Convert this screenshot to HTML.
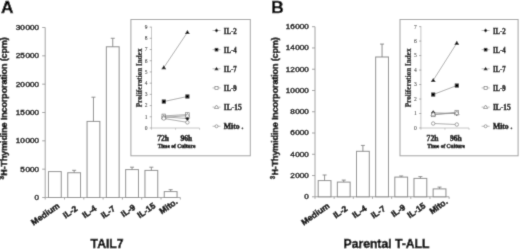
<!DOCTYPE html>
<html><head><meta charset="utf-8"><style>
html,body{margin:0;padding:0;background:#fff;width:520px;height:249px;overflow:hidden;}
svg{display:block;}
text{stroke:#000;stroke-width:0.45px;}
text.s{stroke-width:0.4px;}
text.b{stroke-width:0.45px;}
text.t{stroke-width:0.05px;}
text.p{stroke-width:0.2px;}
</style></head><body>
<svg width="520" height="249" viewBox="0 0 520 249">
<defs><filter id="bl" x="0" y="0" width="520" height="249" filterUnits="userSpaceOnUse"><feConvolveMatrix order="3" kernelMatrix="1 6 1 6 36 6 1 6 1" edgeMode="duplicate" preserveAlpha="true"/></filter></defs>
<g filter="url(#bl)">
<rect width="520" height="249" fill="#fff"/>
<text x="1" y="13.1" class="b" font-family='"Liberation Sans", sans-serif' font-weight="bold" font-size="17.3">A</text>
<line x1="45.2" y1="27.5" x2="45.2" y2="197.5" stroke="#a0a0a0" stroke-width="1"/>
<line x1="42.2" y1="197.5" x2="45.2" y2="197.5" stroke="#a0a0a0" stroke-width="1"/>
<text x="39" y="199.9" text-anchor="end" font-family='"Liberation Sans", sans-serif' font-size="8.1">0</text>
<line x1="42.2" y1="169.17" x2="45.2" y2="169.17" stroke="#a0a0a0" stroke-width="1"/>
<text x="39" y="171.57" text-anchor="end" font-family='"Liberation Sans", sans-serif' font-size="8.1">5<tspan dx="0.6">000</tspan></text>
<line x1="42.2" y1="140.83" x2="45.2" y2="140.83" stroke="#a0a0a0" stroke-width="1"/>
<text x="39" y="143.23" text-anchor="end" font-family='"Liberation Sans", sans-serif' font-size="8.1">10<tspan dx="0.6">000</tspan></text>
<line x1="42.2" y1="112.5" x2="45.2" y2="112.5" stroke="#a0a0a0" stroke-width="1"/>
<text x="39" y="114.9" text-anchor="end" font-family='"Liberation Sans", sans-serif' font-size="8.1">15<tspan dx="0.6">000</tspan></text>
<line x1="42.2" y1="84.17" x2="45.2" y2="84.17" stroke="#a0a0a0" stroke-width="1"/>
<text x="39" y="86.57" text-anchor="end" font-family='"Liberation Sans", sans-serif' font-size="8.1">20<tspan dx="0.6">000</tspan></text>
<line x1="42.2" y1="55.83" x2="45.2" y2="55.83" stroke="#a0a0a0" stroke-width="1"/>
<text x="39" y="58.23" text-anchor="end" font-family='"Liberation Sans", sans-serif' font-size="8.1">25<tspan dx="0.6">000</tspan></text>
<line x1="42.2" y1="27.5" x2="45.2" y2="27.5" stroke="#a0a0a0" stroke-width="1"/>
<text x="39" y="29.9" text-anchor="end" font-family='"Liberation Sans", sans-serif' font-size="8.1">30<tspan dx="0.6">000</tspan></text>
<line x1="45.2" y1="197.5" x2="180.3" y2="197.5" stroke="#a0a0a0" stroke-width="1"/>
<line x1="45.2" y1="197.5" x2="45.2" y2="199.5" stroke="#a0a0a0" stroke-width="1"/>
<line x1="64.5" y1="197.5" x2="64.5" y2="199.5" stroke="#a0a0a0" stroke-width="1"/>
<line x1="83.8" y1="197.5" x2="83.8" y2="199.5" stroke="#a0a0a0" stroke-width="1"/>
<line x1="103.1" y1="197.5" x2="103.1" y2="199.5" stroke="#a0a0a0" stroke-width="1"/>
<line x1="122.4" y1="197.5" x2="122.4" y2="199.5" stroke="#a0a0a0" stroke-width="1"/>
<line x1="141.7" y1="197.5" x2="141.7" y2="199.5" stroke="#a0a0a0" stroke-width="1"/>
<line x1="161" y1="197.5" x2="161" y2="199.5" stroke="#a0a0a0" stroke-width="1"/>
<line x1="180.3" y1="197.5" x2="180.3" y2="199.5" stroke="#a0a0a0" stroke-width="1"/>
<rect x="48.45" y="171.6" width="12.8" height="25.9" fill="#fff" stroke="#8a8a8a" stroke-width="1"/>
<rect x="67.75" y="172.74" width="12.8" height="24.76" fill="#fff" stroke="#8a8a8a" stroke-width="1"/>
<line x1="74.15" y1="170.3" x2="74.15" y2="172.74" stroke="#8a8a8a" stroke-width="1"/>
<line x1="72.15" y1="170.3" x2="76.15" y2="170.3" stroke="#8a8a8a" stroke-width="1"/>
<rect x="87.05" y="121.4" width="12.8" height="76.1" fill="#fff" stroke="#8a8a8a" stroke-width="1"/>
<line x1="93.45" y1="97.2" x2="93.45" y2="121.4" stroke="#8a8a8a" stroke-width="1"/>
<line x1="91.45" y1="97.2" x2="95.45" y2="97.2" stroke="#8a8a8a" stroke-width="1"/>
<rect x="106.35" y="46.77" width="12.8" height="150.73" fill="#fff" stroke="#8a8a8a" stroke-width="1"/>
<line x1="112.75" y1="38.27" x2="112.75" y2="46.77" stroke="#8a8a8a" stroke-width="1"/>
<line x1="110.75" y1="38.27" x2="114.75" y2="38.27" stroke="#8a8a8a" stroke-width="1"/>
<rect x="125.65" y="169.6" width="12.8" height="27.9" fill="#fff" stroke="#8a8a8a" stroke-width="1"/>
<line x1="132.05" y1="167.2" x2="132.05" y2="169.6" stroke="#8a8a8a" stroke-width="1"/>
<line x1="130.05" y1="167.2" x2="134.05" y2="167.2" stroke="#8a8a8a" stroke-width="1"/>
<rect x="144.95" y="170.4" width="12.8" height="27.1" fill="#fff" stroke="#8a8a8a" stroke-width="1"/>
<line x1="151.35" y1="167.2" x2="151.35" y2="170.4" stroke="#8a8a8a" stroke-width="1"/>
<line x1="149.35" y1="167.2" x2="153.35" y2="167.2" stroke="#8a8a8a" stroke-width="1"/>
<rect x="164.25" y="191.6" width="12.8" height="5.9" fill="#fff" stroke="#8a8a8a" stroke-width="1"/>
<line x1="170.65" y1="189.7" x2="170.65" y2="191.6" stroke="#8a8a8a" stroke-width="1"/>
<line x1="168.65" y1="189.7" x2="172.65" y2="189.7" stroke="#8a8a8a" stroke-width="1"/>
<text transform="translate(60.2,207.1) rotate(-35)" text-anchor="end" class="b" font-family='"Liberation Sans", sans-serif' font-weight="bold" font-size="8.6">Medium</text>
<text transform="translate(78.05,209.9) rotate(-35)" text-anchor="end" class="b" font-family='"Liberation Sans", sans-serif' font-weight="bold" font-size="8.6">IL-2</text>
<text transform="translate(97.2,209.75) rotate(-35)" text-anchor="end" class="b" font-family='"Liberation Sans", sans-serif' font-weight="bold" font-size="8.6">IL-4</text>
<text transform="translate(115.95,210) rotate(-35)" text-anchor="end" class="b" font-family='"Liberation Sans", sans-serif' font-weight="bold" font-size="8.6">IL-7</text>
<text transform="translate(136.05,208.65) rotate(-35)" text-anchor="end" class="b" font-family='"Liberation Sans", sans-serif' font-weight="bold" font-size="8.6">IL-9</text>
<text transform="translate(156.15,207) rotate(-35)" text-anchor="end" class="b" font-family='"Liberation Sans", sans-serif' font-weight="bold" font-size="8.6">IL-15</text>
<text transform="translate(178.25,203) rotate(-35)" text-anchor="end" class="b" font-family='"Liberation Sans", sans-serif' font-weight="bold" font-size="8.6">Mito.</text>
<text transform="translate(7.2,175.7) rotate(-90)" class="b" font-family='"Liberation Sans", sans-serif' font-weight="bold" font-size="9" textLength="138.4" lengthAdjust="spacing">H-Thymidine Incorporation (cpm)</text>
<text transform="translate(4.2,179.5) rotate(-90)" class="b" font-family='"Liberation Sans", sans-serif' font-weight="bold" font-size="6.3">3</text>
<text x="90.6" y="247.5" class="b" font-family='"Liberation Sans", sans-serif' font-weight="bold" font-size="12.2">TAIL7</text>
<text x="271.2" y="13.1" class="b" font-family='"Liberation Sans", sans-serif' font-weight="bold" font-size="17.3">B</text>
<line x1="315" y1="26.7" x2="315" y2="196.8" stroke="#a0a0a0" stroke-width="1"/>
<line x1="312" y1="196.8" x2="315" y2="196.8" stroke="#a0a0a0" stroke-width="1"/>
<text x="308.8" y="199.2" text-anchor="end" font-family='"Liberation Sans", sans-serif' font-size="8.1">0</text>
<line x1="312" y1="175.54" x2="315" y2="175.54" stroke="#a0a0a0" stroke-width="1"/>
<text x="308.8" y="177.94" text-anchor="end" font-family='"Liberation Sans", sans-serif' font-size="8.1">2<tspan dx="0.6">000</tspan></text>
<line x1="312" y1="154.28" x2="315" y2="154.28" stroke="#a0a0a0" stroke-width="1"/>
<text x="308.8" y="156.68" text-anchor="end" font-family='"Liberation Sans", sans-serif' font-size="8.1">4<tspan dx="0.6">000</tspan></text>
<line x1="312" y1="133.01" x2="315" y2="133.01" stroke="#a0a0a0" stroke-width="1"/>
<text x="308.8" y="135.41" text-anchor="end" font-family='"Liberation Sans", sans-serif' font-size="8.1">6<tspan dx="0.6">000</tspan></text>
<line x1="312" y1="111.75" x2="315" y2="111.75" stroke="#a0a0a0" stroke-width="1"/>
<text x="308.8" y="114.15" text-anchor="end" font-family='"Liberation Sans", sans-serif' font-size="8.1">8<tspan dx="0.6">000</tspan></text>
<line x1="312" y1="90.49" x2="315" y2="90.49" stroke="#a0a0a0" stroke-width="1"/>
<text x="308.8" y="92.89" text-anchor="end" font-family='"Liberation Sans", sans-serif' font-size="8.1">10<tspan dx="0.6">000</tspan></text>
<line x1="312" y1="69.22" x2="315" y2="69.22" stroke="#a0a0a0" stroke-width="1"/>
<text x="308.8" y="71.62" text-anchor="end" font-family='"Liberation Sans", sans-serif' font-size="8.1">12<tspan dx="0.6">000</tspan></text>
<line x1="312" y1="47.96" x2="315" y2="47.96" stroke="#a0a0a0" stroke-width="1"/>
<text x="308.8" y="50.36" text-anchor="end" font-family='"Liberation Sans", sans-serif' font-size="8.1">14<tspan dx="0.6">000</tspan></text>
<line x1="312" y1="26.7" x2="315" y2="26.7" stroke="#a0a0a0" stroke-width="1"/>
<text x="308.8" y="29.1" text-anchor="end" font-family='"Liberation Sans", sans-serif' font-size="8.1">16<tspan dx="0.6">000</tspan></text>
<line x1="315" y1="196.8" x2="449.12" y2="196.8" stroke="#a0a0a0" stroke-width="1"/>
<line x1="315" y1="196.8" x2="315" y2="198.8" stroke="#a0a0a0" stroke-width="1"/>
<line x1="334.16" y1="196.8" x2="334.16" y2="198.8" stroke="#a0a0a0" stroke-width="1"/>
<line x1="353.32" y1="196.8" x2="353.32" y2="198.8" stroke="#a0a0a0" stroke-width="1"/>
<line x1="372.48" y1="196.8" x2="372.48" y2="198.8" stroke="#a0a0a0" stroke-width="1"/>
<line x1="391.64" y1="196.8" x2="391.64" y2="198.8" stroke="#a0a0a0" stroke-width="1"/>
<line x1="410.8" y1="196.8" x2="410.8" y2="198.8" stroke="#a0a0a0" stroke-width="1"/>
<line x1="429.96" y1="196.8" x2="429.96" y2="198.8" stroke="#a0a0a0" stroke-width="1"/>
<line x1="449.12" y1="196.8" x2="449.12" y2="198.8" stroke="#a0a0a0" stroke-width="1"/>
<rect x="318.18" y="180.6" width="12.8" height="16.2" fill="#fff" stroke="#8a8a8a" stroke-width="1"/>
<line x1="324.58" y1="175" x2="324.58" y2="180.6" stroke="#8a8a8a" stroke-width="1"/>
<line x1="322.58" y1="175" x2="326.58" y2="175" stroke="#8a8a8a" stroke-width="1"/>
<rect x="337.34" y="182.1" width="12.8" height="14.7" fill="#fff" stroke="#8a8a8a" stroke-width="1"/>
<line x1="343.74" y1="180.1" x2="343.74" y2="182.1" stroke="#8a8a8a" stroke-width="1"/>
<line x1="341.74" y1="180.1" x2="345.74" y2="180.1" stroke="#8a8a8a" stroke-width="1"/>
<rect x="356.5" y="151.3" width="12.8" height="45.5" fill="#fff" stroke="#8a8a8a" stroke-width="1"/>
<line x1="362.9" y1="145.4" x2="362.9" y2="151.3" stroke="#8a8a8a" stroke-width="1"/>
<line x1="360.9" y1="145.4" x2="364.9" y2="145.4" stroke="#8a8a8a" stroke-width="1"/>
<rect x="375.66" y="56.99" width="12.8" height="139.81" fill="#fff" stroke="#8a8a8a" stroke-width="1"/>
<line x1="382.06" y1="44.08" x2="382.06" y2="56.99" stroke="#8a8a8a" stroke-width="1"/>
<line x1="380.06" y1="44.08" x2="384.06" y2="44.08" stroke="#8a8a8a" stroke-width="1"/>
<rect x="394.82" y="177.1" width="12.8" height="19.7" fill="#fff" stroke="#8a8a8a" stroke-width="1"/>
<line x1="401.22" y1="175.99" x2="401.22" y2="177.1" stroke="#8a8a8a" stroke-width="1"/>
<line x1="399.22" y1="175.99" x2="403.22" y2="175.99" stroke="#8a8a8a" stroke-width="1"/>
<rect x="413.98" y="178.4" width="12.8" height="18.4" fill="#fff" stroke="#8a8a8a" stroke-width="1"/>
<line x1="420.38" y1="176.6" x2="420.38" y2="178.4" stroke="#8a8a8a" stroke-width="1"/>
<line x1="418.38" y1="176.6" x2="422.38" y2="176.6" stroke="#8a8a8a" stroke-width="1"/>
<rect x="433.14" y="188.9" width="12.8" height="7.9" fill="#fff" stroke="#8a8a8a" stroke-width="1"/>
<line x1="439.54" y1="187.1" x2="439.54" y2="188.9" stroke="#8a8a8a" stroke-width="1"/>
<line x1="437.54" y1="187.1" x2="441.54" y2="187.1" stroke="#8a8a8a" stroke-width="1"/>
<text transform="translate(330.3,207.1) rotate(-35)" text-anchor="end" class="b" font-family='"Liberation Sans", sans-serif' font-weight="bold" font-size="8.6">Medium</text>
<text transform="translate(348.15,209.9) rotate(-35)" text-anchor="end" class="b" font-family='"Liberation Sans", sans-serif' font-weight="bold" font-size="8.6">IL-2</text>
<text transform="translate(367.3,209.75) rotate(-35)" text-anchor="end" class="b" font-family='"Liberation Sans", sans-serif' font-weight="bold" font-size="8.6">IL-4</text>
<text transform="translate(386.05,210) rotate(-35)" text-anchor="end" class="b" font-family='"Liberation Sans", sans-serif' font-weight="bold" font-size="8.6">IL-7</text>
<text transform="translate(406.15,208.65) rotate(-35)" text-anchor="end" class="b" font-family='"Liberation Sans", sans-serif' font-weight="bold" font-size="8.6">IL-9</text>
<text transform="translate(426.25,207) rotate(-35)" text-anchor="end" class="b" font-family='"Liberation Sans", sans-serif' font-weight="bold" font-size="8.6">IL-15</text>
<text transform="translate(448.35,203) rotate(-35)" text-anchor="end" class="b" font-family='"Liberation Sans", sans-serif' font-weight="bold" font-size="8.6">Mito.</text>
<text transform="translate(278.3,175.5) rotate(-90)" class="b" font-family='"Liberation Sans", sans-serif' font-weight="bold" font-size="9" textLength="138.2" lengthAdjust="spacing">H-Thymidine Incorporation (cpm)</text>
<text transform="translate(275.3,179.3) rotate(-90)" class="b" font-family='"Liberation Sans", sans-serif' font-weight="bold" font-size="6.3">3</text>
<text x="343.5" y="247.5" class="b" font-family='"Liberation Sans", sans-serif' font-weight="bold" font-size="12.2">Parental T-ALL</text>
<rect x="130.9" y="19.5" width="119.4" height="136.3" fill="#fff" stroke="#a0a0a0" stroke-width="1"/>
<line x1="151.5" y1="27.1" x2="151.5" y2="128" stroke="#b8b8b8" stroke-width="0.8"/>
<line x1="149.7" y1="128" x2="151.8" y2="128" stroke="#999" stroke-width="0.8"/>
<text x="147.4" y="129.9" text-anchor="end" class="t" fill="#333" font-family='"Liberation Serif", serif' font-size="5.5">0</text>
<line x1="149.7" y1="116.79" x2="151.8" y2="116.79" stroke="#999" stroke-width="0.8"/>
<text x="147.4" y="118.69" text-anchor="end" class="t" fill="#333" font-family='"Liberation Serif", serif' font-size="5.5">1</text>
<line x1="149.7" y1="105.58" x2="151.8" y2="105.58" stroke="#999" stroke-width="0.8"/>
<text x="147.4" y="107.48" text-anchor="end" class="t" fill="#333" font-family='"Liberation Serif", serif' font-size="5.5">2</text>
<line x1="149.7" y1="94.37" x2="151.8" y2="94.37" stroke="#999" stroke-width="0.8"/>
<text x="147.4" y="96.27" text-anchor="end" class="t" fill="#333" font-family='"Liberation Serif", serif' font-size="5.5">3</text>
<line x1="149.7" y1="83.16" x2="151.8" y2="83.16" stroke="#999" stroke-width="0.8"/>
<text x="147.4" y="85.06" text-anchor="end" class="t" fill="#333" font-family='"Liberation Serif", serif' font-size="5.5">4</text>
<line x1="149.7" y1="71.94" x2="151.8" y2="71.94" stroke="#999" stroke-width="0.8"/>
<text x="147.4" y="73.84" text-anchor="end" class="t" fill="#333" font-family='"Liberation Serif", serif' font-size="5.5">5</text>
<line x1="149.7" y1="60.73" x2="151.8" y2="60.73" stroke="#999" stroke-width="0.8"/>
<text x="147.4" y="62.63" text-anchor="end" class="t" fill="#333" font-family='"Liberation Serif", serif' font-size="5.5">6</text>
<line x1="149.7" y1="49.52" x2="151.8" y2="49.52" stroke="#999" stroke-width="0.8"/>
<text x="147.4" y="51.42" text-anchor="end" class="t" fill="#333" font-family='"Liberation Serif", serif' font-size="5.5">7</text>
<line x1="149.7" y1="38.31" x2="151.8" y2="38.31" stroke="#999" stroke-width="0.8"/>
<text x="147.4" y="40.21" text-anchor="end" class="t" fill="#333" font-family='"Liberation Serif", serif' font-size="5.5">8</text>
<line x1="149.7" y1="27.1" x2="151.8" y2="27.1" stroke="#999" stroke-width="0.8"/>
<text x="147.4" y="29" text-anchor="end" class="t" fill="#333" font-family='"Liberation Serif", serif' font-size="5.5">9</text>
<line x1="151.5" y1="128" x2="199.6" y2="128" stroke="#b8b8b8" stroke-width="0.8"/>
<line x1="151.5" y1="128" x2="151.5" y2="129.8" stroke="#b8b8b8" stroke-width="0.8"/>
<line x1="175.55" y1="128" x2="175.55" y2="129.8" stroke="#b8b8b8" stroke-width="0.8"/>
<line x1="199.6" y1="128" x2="199.6" y2="129.8" stroke="#b8b8b8" stroke-width="0.8"/>
<text x="163.1" y="140.5" text-anchor="middle" class="s" font-family='"Liberation Serif", serif' font-weight="bold" font-size="7.6">72h</text>
<text x="186.4" y="140.5" text-anchor="middle" class="s" font-family='"Liberation Serif", serif' font-weight="bold" font-size="7.6">96h</text>
<text x="176.6" y="147.9" text-anchor="middle" class="s" font-family='"Liberation Serif", serif' font-weight="bold" font-size="5.5">Time of Culture</text>
<text transform="translate(141.5,77.8) rotate(-90)" text-anchor="middle" class="p" font-family='"Liberation Serif", serif' font-weight="bold" font-size="7.2">Proliferation Index</text>
<line x1="163.8" y1="116.79" x2="187.4" y2="118.58" stroke="#888" stroke-width="0.7"/>
<line x1="163.8" y1="101.54" x2="187.4" y2="96.5" stroke="#888" stroke-width="0.7"/>
<line x1="163.8" y1="67.57" x2="187.4" y2="32.37" stroke="#888" stroke-width="0.7"/>
<line x1="163.8" y1="115.89" x2="187.4" y2="114.55" stroke="#888" stroke-width="0.7"/>
<line x1="163.8" y1="117.35" x2="187.4" y2="115.67" stroke="#888" stroke-width="0.7"/>
<line x1="163.8" y1="118.47" x2="187.4" y2="122.39" stroke="#888" stroke-width="0.7"/>
<path d="M163.8 114.37L165.93 116.79L163.8 119.2L161.67 116.79Z" fill="#000"/>
<path d="M187.4 116.17L189.53 118.58L187.4 121L185.27 118.58Z" fill="#000"/>
<rect x="161.79" y="99.53" width="4.02" height="4.02" fill="#000"/>
<rect x="185.39" y="94.48" width="4.02" height="4.02" fill="#000"/>
<path d="M163.8 65.16L166.22 69.18L161.39 69.18Z" fill="#000"/>
<path d="M187.4 29.95L189.81 33.98L184.99 33.98Z" fill="#000"/>
<rect x="161.99" y="114.08" width="3.62" height="3.62" fill="#fff" stroke="#666" stroke-width="0.6"/>
<rect x="185.59" y="112.73" width="3.62" height="3.62" fill="#fff" stroke="#666" stroke-width="0.6"/>
<path d="M163.8 114.93L166.22 118.96L161.39 118.96Z" fill="#fff" stroke="#666" stroke-width="0.6"/>
<path d="M187.4 113.25L189.81 117.28L184.99 117.28Z" fill="#fff" stroke="#666" stroke-width="0.6"/>
<circle cx="163.8" cy="118.47" r="1.75" fill="#fff" stroke="#666" stroke-width="0.6"/>
<circle cx="187.4" cy="122.39" r="1.75" fill="#fff" stroke="#666" stroke-width="0.6"/>
<line x1="212.5" y1="30.5" x2="220.5" y2="30.5" stroke="#aaa" stroke-width="0.8"/>
<path d="M216.5 28.4L218.35 30.5L216.5 32.6L214.65 30.5Z" fill="#000"/>
<text x="223.8" y="33.6" class="s" font-family='"Liberation Serif", serif' font-weight="bold" font-size="7.4" textLength="12.9" lengthAdjust="spacingAndGlyphs">IL-2</text>
<line x1="212.5" y1="49.65" x2="220.5" y2="49.65" stroke="#aaa" stroke-width="0.8"/>
<rect x="214.75" y="47.9" width="3.5" height="3.5" fill="#000"/>
<text x="223.8" y="52.75" class="s" font-family='"Liberation Serif", serif' font-weight="bold" font-size="7.4" textLength="12.9" lengthAdjust="spacingAndGlyphs">IL-4</text>
<line x1="212.5" y1="68.8" x2="220.5" y2="68.8" stroke="#aaa" stroke-width="0.8"/>
<path d="M216.5 66.7L218.6 70.2L214.4 70.2Z" fill="#000"/>
<text x="223.8" y="71.9" class="s" font-family='"Liberation Serif", serif' font-weight="bold" font-size="7.4" textLength="12.9" lengthAdjust="spacingAndGlyphs">IL-7</text>
<line x1="212.5" y1="87.95" x2="220.5" y2="87.95" stroke="#aaa" stroke-width="0.8"/>
<rect x="214.95" y="86.4" width="3.1" height="3.1" fill="#fff" stroke="#666" stroke-width="0.6"/>
<text x="223.8" y="91.05" class="s" font-family='"Liberation Serif", serif' font-weight="bold" font-size="7.4" textLength="12.9" lengthAdjust="spacingAndGlyphs">IL-9</text>
<line x1="212.5" y1="107.1" x2="220.5" y2="107.1" stroke="#aaa" stroke-width="0.8"/>
<path d="M216.5 105L218.6 108.5L214.4 108.5Z" fill="#fff" stroke="#666" stroke-width="0.6"/>
<text x="223.8" y="110.2" class="s" font-family='"Liberation Serif", serif' font-weight="bold" font-size="7.4" textLength="18.0" lengthAdjust="spacingAndGlyphs">IL-15</text>
<line x1="212.5" y1="126.25" x2="220.5" y2="126.25" stroke="#aaa" stroke-width="0.8"/>
<circle cx="216.5" cy="126.25" r="1.5" fill="#fff" stroke="#666" stroke-width="0.6"/>
<text x="223.8" y="129.35" class="s" font-family='"Liberation Serif", serif' font-weight="bold" font-size="7.4" textLength="19.6" lengthAdjust="spacingAndGlyphs">Mito .</text>
<rect x="400" y="19.5" width="118.1" height="136.3" fill="#fff" stroke="#a0a0a0" stroke-width="1"/>
<line x1="420.9" y1="26.6" x2="420.9" y2="128" stroke="#b8b8b8" stroke-width="0.8"/>
<line x1="419.1" y1="128" x2="421.2" y2="128" stroke="#999" stroke-width="0.8"/>
<text x="416.8" y="129.9" text-anchor="end" class="t" fill="#333" font-family='"Liberation Serif", serif' font-size="5.5">0</text>
<line x1="419.1" y1="113.51" x2="421.2" y2="113.51" stroke="#999" stroke-width="0.8"/>
<text x="416.8" y="115.41" text-anchor="end" class="t" fill="#333" font-family='"Liberation Serif", serif' font-size="5.5">1</text>
<line x1="419.1" y1="99.03" x2="421.2" y2="99.03" stroke="#999" stroke-width="0.8"/>
<text x="416.8" y="100.93" text-anchor="end" class="t" fill="#333" font-family='"Liberation Serif", serif' font-size="5.5">2</text>
<line x1="419.1" y1="84.54" x2="421.2" y2="84.54" stroke="#999" stroke-width="0.8"/>
<text x="416.8" y="86.44" text-anchor="end" class="t" fill="#333" font-family='"Liberation Serif", serif' font-size="5.5">3</text>
<line x1="419.1" y1="70.06" x2="421.2" y2="70.06" stroke="#999" stroke-width="0.8"/>
<text x="416.8" y="71.96" text-anchor="end" class="t" fill="#333" font-family='"Liberation Serif", serif' font-size="5.5">4</text>
<line x1="419.1" y1="55.57" x2="421.2" y2="55.57" stroke="#999" stroke-width="0.8"/>
<text x="416.8" y="57.47" text-anchor="end" class="t" fill="#333" font-family='"Liberation Serif", serif' font-size="5.5">5</text>
<line x1="419.1" y1="41.09" x2="421.2" y2="41.09" stroke="#999" stroke-width="0.8"/>
<text x="416.8" y="42.99" text-anchor="end" class="t" fill="#333" font-family='"Liberation Serif", serif' font-size="5.5">6</text>
<line x1="419.1" y1="26.6" x2="421.2" y2="26.6" stroke="#999" stroke-width="0.8"/>
<text x="416.8" y="28.5" text-anchor="end" class="t" fill="#333" font-family='"Liberation Serif", serif' font-size="5.5">7</text>
<line x1="420.9" y1="128" x2="469" y2="128" stroke="#b8b8b8" stroke-width="0.8"/>
<line x1="420.9" y1="128" x2="420.9" y2="129.8" stroke="#b8b8b8" stroke-width="0.8"/>
<line x1="444.95" y1="128" x2="444.95" y2="129.8" stroke="#b8b8b8" stroke-width="0.8"/>
<line x1="469" y1="128" x2="469" y2="129.8" stroke="#b8b8b8" stroke-width="0.8"/>
<text x="432.5" y="140.5" text-anchor="middle" class="s" font-family='"Liberation Serif", serif' font-weight="bold" font-size="7.6">72h</text>
<text x="455.8" y="140.5" text-anchor="middle" class="s" font-family='"Liberation Serif", serif' font-weight="bold" font-size="7.6">96h</text>
<text x="446" y="147.9" text-anchor="middle" class="s" font-family='"Liberation Serif", serif' font-weight="bold" font-size="5.5">Time of Culture</text>
<text transform="translate(410.6,77.8) rotate(-90)" text-anchor="middle" class="p" font-family='"Liberation Serif", serif' font-weight="bold" font-size="7.2">Proliferation Index</text>
<line x1="433.2" y1="112.79" x2="456.8" y2="113.51" stroke="#888" stroke-width="0.7"/>
<line x1="433.2" y1="94.54" x2="456.8" y2="85.56" stroke="#888" stroke-width="0.7"/>
<line x1="433.2" y1="80.34" x2="456.8" y2="43.11" stroke="#888" stroke-width="0.7"/>
<line x1="433.2" y1="114.96" x2="456.8" y2="112.07" stroke="#888" stroke-width="0.7"/>
<line x1="433.2" y1="114.24" x2="456.8" y2="113.22" stroke="#888" stroke-width="0.7"/>
<line x1="433.2" y1="123.51" x2="456.8" y2="124.52" stroke="#888" stroke-width="0.7"/>
<path d="M433.2 110.37L435.33 112.79L433.2 115.2L431.07 112.79Z" fill="#000"/>
<path d="M456.8 111.1L458.93 113.51L456.8 115.93L454.67 113.51Z" fill="#000"/>
<rect x="431.19" y="92.53" width="4.02" height="4.02" fill="#000"/>
<rect x="454.79" y="83.54" width="4.02" height="4.02" fill="#000"/>
<path d="M433.2 77.93L435.62 81.95L430.78 81.95Z" fill="#000"/>
<path d="M456.8 40.7L459.21 44.72L454.38 44.72Z" fill="#000"/>
<rect x="431.39" y="113.15" width="3.62" height="3.62" fill="#fff" stroke="#666" stroke-width="0.6"/>
<rect x="454.99" y="110.25" width="3.62" height="3.62" fill="#fff" stroke="#666" stroke-width="0.6"/>
<path d="M433.2 111.82L435.62 115.85L430.78 115.85Z" fill="#fff" stroke="#666" stroke-width="0.6"/>
<path d="M456.8 110.81L459.21 114.83L454.38 114.83Z" fill="#fff" stroke="#666" stroke-width="0.6"/>
<circle cx="433.2" cy="123.51" r="1.75" fill="#fff" stroke="#666" stroke-width="0.6"/>
<circle cx="456.8" cy="124.52" r="1.75" fill="#fff" stroke="#666" stroke-width="0.6"/>
<line x1="481.6" y1="30.5" x2="489.6" y2="30.5" stroke="#aaa" stroke-width="0.8"/>
<path d="M485.6 28.4L487.45 30.5L485.6 32.6L483.75 30.5Z" fill="#000"/>
<text x="492.9" y="33.6" class="s" font-family='"Liberation Serif", serif' font-weight="bold" font-size="7.4" textLength="12.9" lengthAdjust="spacingAndGlyphs">IL-2</text>
<line x1="481.6" y1="49.65" x2="489.6" y2="49.65" stroke="#aaa" stroke-width="0.8"/>
<rect x="483.85" y="47.9" width="3.5" height="3.5" fill="#000"/>
<text x="492.9" y="52.75" class="s" font-family='"Liberation Serif", serif' font-weight="bold" font-size="7.4" textLength="12.9" lengthAdjust="spacingAndGlyphs">IL-4</text>
<line x1="481.6" y1="68.8" x2="489.6" y2="68.8" stroke="#aaa" stroke-width="0.8"/>
<path d="M485.6 66.7L487.7 70.2L483.5 70.2Z" fill="#000"/>
<text x="492.9" y="71.9" class="s" font-family='"Liberation Serif", serif' font-weight="bold" font-size="7.4" textLength="12.9" lengthAdjust="spacingAndGlyphs">IL-7</text>
<line x1="481.6" y1="87.95" x2="489.6" y2="87.95" stroke="#aaa" stroke-width="0.8"/>
<rect x="484.05" y="86.4" width="3.1" height="3.1" fill="#fff" stroke="#666" stroke-width="0.6"/>
<text x="492.9" y="91.05" class="s" font-family='"Liberation Serif", serif' font-weight="bold" font-size="7.4" textLength="12.9" lengthAdjust="spacingAndGlyphs">IL-9</text>
<line x1="481.6" y1="107.1" x2="489.6" y2="107.1" stroke="#aaa" stroke-width="0.8"/>
<path d="M485.6 105L487.7 108.5L483.5 108.5Z" fill="#fff" stroke="#666" stroke-width="0.6"/>
<text x="492.9" y="110.2" class="s" font-family='"Liberation Serif", serif' font-weight="bold" font-size="7.4" textLength="18.0" lengthAdjust="spacingAndGlyphs">IL-15</text>
<line x1="481.6" y1="126.25" x2="489.6" y2="126.25" stroke="#aaa" stroke-width="0.8"/>
<circle cx="485.6" cy="126.25" r="1.5" fill="#fff" stroke="#666" stroke-width="0.6"/>
<text x="492.9" y="129.35" class="s" font-family='"Liberation Serif", serif' font-weight="bold" font-size="7.4" textLength="19.6" lengthAdjust="spacingAndGlyphs">Mito .</text>
</g>
</svg>
</body></html>
